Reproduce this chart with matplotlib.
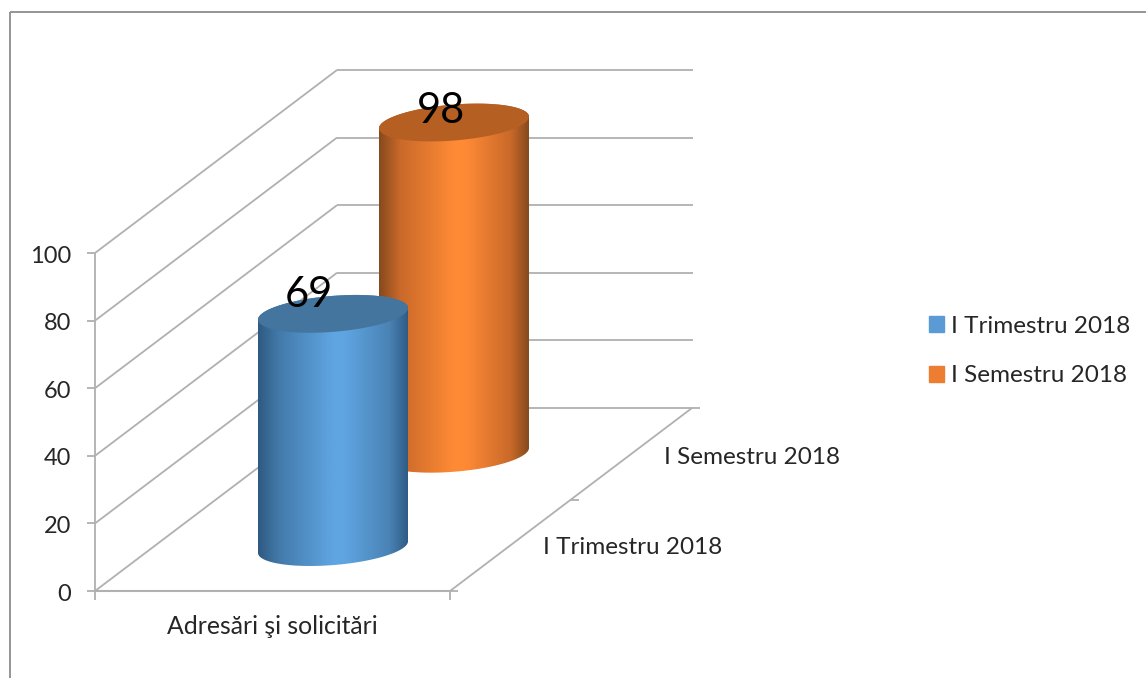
import numpy as np
import matplotlib
matplotlib.use("Agg")
import matplotlib.pyplot as plt
from matplotlib.colors import LinearSegmentedColormap
from matplotlib.patches import Patch, Polygon

# data
series = ["I Trimestru 2018", "I Semestru 2018"]
values = [69, 98]
category = "Adresări şi solicitări"
y_ticks = [0, 20, 40, 60, 80, 100]

# colours
legend_colors = ["#5b9bd5", "#ed7d31"]
top_colors = ["#44759f", "#b55f23"]
side_stops = [
    ["#2e5a82", "#437aaa", "#5fa5e2", "#5fa5e2", "#4a82b4", "#2f5c85"],
    ["#864a1c", "#c9692a", "#ff8a35", "#ff8a35", "#c9692a", "#864a1c"],
]
grid_color = "#b0b0b0"
text_color = "#262626"

# layout, x in pixels and y in value units
unit = 3.38
zero_px = 591
wall_x = 95
axis_w = 355
depth_dx = 242
depth_dy = 183
bar_rx = 75
bar_ry = 18
bar_tilt = 5.8
bar_depth_x = [0.25, 0.75]
bar_depth_y = [0.24, 0.75]


def px(y):
    return (zero_px - y) / unit


def line(xs, ys, color=grid_color, lw=1.3):
    ax.plot(xs, ys, color=color, lw=lw, solid_capstyle="butt")


def ellipse(cx, base, t):
    x = cx + bar_rx * np.cos(t)
    y = base + (bar_tilt * np.cos(t) + bar_ry * np.sin(t)) / unit
    return np.column_stack([x, y])


def cylinder(cx, base, value, stops, top_color, z):
    top = base + value
    outline = np.vstack([
        ellipse(cx, base, np.linspace(np.pi, 2 * np.pi, 80)),
        ellipse(cx, top, np.linspace(0, np.pi, 80)),
    ])
    clip = Polygon(outline, closed=True, transform=ax.transData, fc="none", ec="none")
    ax.add_patch(clip)
    cmap = LinearSegmentedColormap.from_list(
        "side", list(zip([0, 0.14, 0.5, 0.58, 0.88, 1], stops))
    )
    grad = np.linspace(0, 1, 256)[None, :]
    img = ax.imshow(
        grad, cmap=cmap, aspect="auto", interpolation="bilinear",
        extent=(cx - bar_rx, cx + bar_rx, base - 10, top + 10), zorder=z,
    )
    img.set_clip_path(clip)
    lid = ellipse(cx, top, np.linspace(0, 2 * np.pi, 160))
    ax.add_patch(Polygon(lid, closed=True, fc=top_color, ec="none", zorder=z + 0.5))


plt.rcParams["font.family"] = ["Lato", "DejaVu Sans"]
fig = plt.figure(figsize=(11.46, 6.78), dpi=100)
ax = fig.add_axes([0, 0, 1, 1])

# chart frame, only top and left are visible in the crop
line([10, 10], [px(678), px(12.5)], color="#8c8c8c")
line([10, 1146], [px(12.5), px(12.5)], color="#8c8c8c")

# walls and grid
back_x = wall_x + depth_dx
for v in y_ticks:
    back_y = v + depth_dy / unit
    line([wall_x - 8, wall_x], [v, v])
    line([wall_x, back_x], [v, back_y])
    line([back_x, back_x + axis_w + (8 if v == 0 else 1)], [back_y, back_y])
    ax.text(wall_x - 24, v - 0.9, str(v), ha="right", va="center", fontsize=17, color=text_color)

line([wall_x, wall_x], [px(600), y_ticks[-1]])
line([wall_x, wall_x + axis_w], [0, 0], lw=1.5)
line([wall_x + axis_w, wall_x + axis_w], [px(600), 0])

# depth axis
right_x = wall_x + axis_w
line([right_x, right_x + depth_dx], [0, depth_dy / unit])
for d in [0, 0.5]:
    tx = right_x + depth_dx * d
    ty = depth_dy * d / unit
    line([tx, tx + 8], [ty, ty])

# cylinders, the front one goes over the back one
centre = wall_x + axis_w / 2
for i, v in enumerate(values):
    cx = centre + depth_dx * bar_depth_x[i]
    base = depth_dy * bar_depth_y[i] / unit
    cylinder(cx, base, v, side_stops[i], top_colors[i], 5 - 2 * i)

# data labels
label_shift = [-24, -13]
label_rise = [19, 12]
for i, v in enumerate(values):
    cx = centre + depth_dx * bar_depth_x[i] + label_shift[i]
    base = depth_dy * bar_depth_y[i] / unit
    ax.text(cx, base + v + label_rise[i] / unit, str(v), ha="center", va="center",
            fontsize=30, color="black", zorder=7)

# category labels
ax.text(272, px(627), category, ha="center", va="center", fontsize=17.8, color=text_color)
ax.text(543, px(548), series[0], ha="left", va="center", fontsize=17.5, color=text_color)
ax.text(664, px(457), series[1], ha="left", va="center", fontsize=17.5, color=text_color)

handles = [Patch(color=c, label=s) for c, s in zip(legend_colors, series)]
ax.legend(
    handles=handles, loc="center left", bbox_to_anchor=(924 / 1146, 1 - 351 / 678),
    frameon=False, fontsize=17.5, handlelength=0.62, handleheight=0.62, handletextpad=0.3,
    labelspacing=1.19, labelcolor=text_color, borderpad=0.2, borderaxespad=0,
)

ax.set_xlim(0, 1146)
ax.set_ylim(px(678), px(0))
ax.axis("off")
fig.savefig("out.png", dpi=100)
